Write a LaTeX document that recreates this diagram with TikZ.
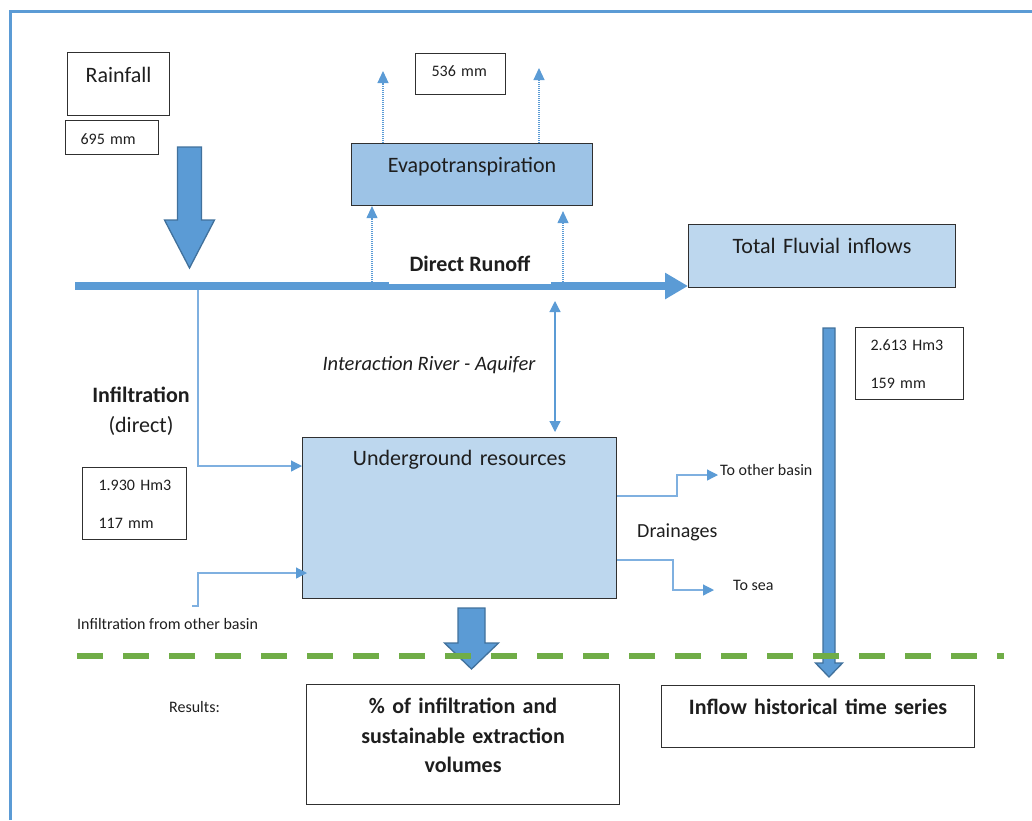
\documentclass[tikz,border=0pt]{standalone}
\usepackage{fontspec}
\setmainfont{Carlito}
\usetikzlibrary{arrows.meta}

\definecolor{riverblue}{HTML}{5B9BD5}
\definecolor{arrowedge}{HTML}{41719C}
\definecolor{midblue}{HTML}{9DC3E6}
\definecolor{paleblue}{HTML}{BDD7EE}
\definecolor{linkblue}{HTML}{7FB0E0}
\definecolor{grassgreen}{HTML}{70AD47}
\definecolor{boxline}{HTML}{303030}
\definecolor{inkgrey}{HTML}{1E1E1E}

\tikzset{
  box/.style={draw=boxline, line width=1.1pt, inner sep=0pt, anchor=north west, text=inkgrey},
  bigtext/.style={font=\fontsize{22}{26}\selectfont},
  smalltext/.style={font=\fontsize{16}{38}\selectfont},
  link/.style={draw=linkblue, line width=1.2pt, -{Triangle[length=11pt,width=11pt,color=riverblue]}},
  twoway/.style={draw=riverblue, line width=1.2pt, {Triangle[length=11pt,width=11pt]}-{Triangle[length=11pt,width=11pt]}},
  vapour/.style={draw=riverblue, line width=1.1pt, dash pattern=on 1pt off 1pt, -{Triangle[length=12pt,width=11pt]}},
  blockarrow/.style={fill=riverblue, draw=arrowedge, line width=1.3pt, line join=miter}
}

\begin{document}
\begin{tikzpicture}[x=1pt, y=-1pt]
    \useasboundingbox (0,0) rectangle (1032,820);

    % Frame
    \draw[riverblue, line width=3pt] (10.5,820) -- (10.5,11.5) -- (1032,11.5);

    % Rainfall
    \node[box, bigtext, align=center, text width=102pt, text height=30pt, text depth=33pt] (rain) at (67,52) {Rainfall};
    \node[box, smalltext, align=left, inner xsep=15pt, text width=63pt, text height=24pt, text depth=10pt] (rainval) at (65,120) {695 mm};

    % Evapotranspiration
    \node[box, bigtext, fill=midblue, align=center, text width=241pt, text height=29pt, text depth=33pt] (evap) at (351,143) {Evapotranspiration};
    \node[box, smalltext, align=left, inner xsep=16pt, text width=58pt, text height=23pt, text depth=18pt] (evapval) at (415,53) {536 mm};

    % Total fluvial inflows
    \node[box, bigtext, fill=paleblue, align=center, text width=267pt, text height=29pt, text depth=34pt] (fluvial) at (688,224) {Total Fluvial inflows};
    \node[box, smalltext, align=left, inner xsep=15pt, text width=78pt, text height=23pt, text depth=49pt] (fluvval) at (855,327) {2.613~Hm3\\159 mm};

    % Underground resources
    \node[box, bigtext, fill=paleblue, align=center, text width=314pt, text height=28pt, text depth=133pt] (ground) at (302,437) {Underground resources};
    \node[box, smalltext, align=left, inner xsep=16pt, text width=72pt, text height=23pt, text depth=49pt] (inflval) at (82,467) {1.930~Hm3\\117 mm};

    % Results
    \node[box, font=\fontsize{22}{29.5}\selectfont\bfseries, align=center, text width=313pt, text height=29pt, text depth=91pt] (share) at (306,684) {\% of infiltration and\\sustainable extraction\\volumes};
    \node[box, font=\fontsize{22}{26}\selectfont\bfseries, align=center, text width=313pt, text height=29pt, text depth=33pt] (series) at (661,685) {Inflow historical time series};

    % Labels
    \node[font=\fontsize{22}{30}\selectfont, text=inkgrey, align=center, text width=120pt, inner sep=0pt, anchor=north] (infltext) at (141,387) {\textbf{Infiltration}\\(direct)};
    \node[font=\fontsize{20.5}{25}\selectfont\itshape, text=inkgrey, anchor=base, inner sep=0pt] (mixtext) at (429,370) {Interaction River - Aquifer};
    \node[font=\fontsize{20}{24}\selectfont, text=inkgrey, anchor=base west, inner sep=0pt] (draintext) at (637,537) {Drainages};
    \node[smalltext, text=inkgrey, anchor=base west, inner sep=0pt] (othertext) at (720,475) {To other basin};
    \node[smalltext, text=inkgrey, anchor=base west, inner sep=0pt] (seatext) at (733,590) {To sea};
    \node[smalltext, text=inkgrey, anchor=base west, inner sep=0pt] (obasintext) at (77,629) {Infiltration from other basin};
    \node[smalltext, text=inkgrey, anchor=base west, inner sep=0pt] (resultstext) at (169,712) {Results:};

    % Direct runoff
    \coordinate (runstart) at (75,286);
    \draw[riverblue, line width=8pt, -{Triangle[length=23pt,width=25pt]}] (runstart) -- (fluvial.south west |- runstart);
    \node[fill=white, font=\fontsize{22}{26}\selectfont\bfseries, text=inkgrey, minimum width=162pt, minimum height=40pt, inner sep=0pt] (runoff) at (470,264) {Direct Runoff};

    % Evaporation arrows
    \coordinate (vapL) at (383,71);
    \coordinate (vapR) at (539,68);
    \coordinate (riseL) at (372,282);
    \coordinate (riseR) at (563,282);
    \draw[vapour] (evap.north -| vapL) -- (vapL);
    \draw[vapour] (evap.north -| vapR) -- (vapR);
    \draw[vapour] (riseL) -- (riseL |- evap.south);
    \draw[vapour, shorten >=5pt] (riseR) -- (riseR |- evap.south);

    % Infiltration
    \coordinate (split) at (198,290);
    \coordinate (obasin) at (192,606);
    \draw[link] (split) |- (ground.west |- 0,466);
    \draw[link, shorten >=-5pt] (obasin) -- ++(6,0) |- (ground.west |- 0,573);

    % River - aquifer
    \coordinate (mix) at (555,301);
    \draw[twoway, shorten >=5pt] (mix) -- (mix |- ground.north);

    % Drainages
    \draw[link, shorten >=2pt] (ground.east |- 0,496) -| (677,475) -- (othertext.base west);
    \draw[link, shorten >=19pt] (ground.east |- 0,560) -| (673,590) -- (seatext.base west);

    % Block arrows
    \foreach \cx/\ya/\yb/\yc/\sw/\hw in {189.5/147/220/268/12/25, 471.5/608/643/669/13.5/27, 829/328/663/677/6/13.5} {
        \draw[blockarrow] (\cx-\sw,\ya) -- (\cx+\sw,\ya) -- (\cx+\sw,\yb) -- (\cx+\hw,\yb)
            -- (\cx,\yc) -- (\cx-\hw,\yb) -- (\cx-\sw,\yb) -- cycle;
    }

    % Results line
    \draw[grassgreen, line width=6pt, dash pattern=on 26pt off 20pt] (77,656) -- (1004,656);
\end{tikzpicture}
\end{document}
